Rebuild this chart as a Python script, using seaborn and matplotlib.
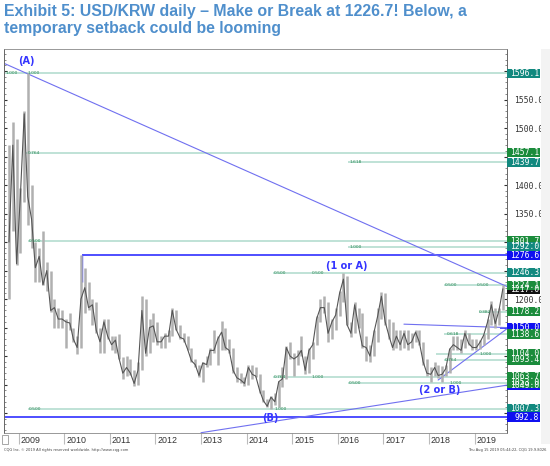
import numpy as np
import pandas as pd
import matplotlib.pyplot as plt
import seaborn as sns
from matplotlib import transforms
from matplotlib.patches import Rectangle
from matplotlib.ticker import MultipleLocator, FuncFormatter

sns.set_style('white')
plt.rcParams['font.family'] = ['Liberation Sans', 'DejaVu Sans']

# ---------------------------------------------------------------
# monthly USD/KRW ranges (Oct 2008 - Aug 2019)
# ---------------------------------------------------------------
high = [1470, 1510, 1480,
        1395, 1530, 1597, 1400, 1300, 1290, 1320, 1265, 1250, 1200, 1185, 1180,
        1165, 1175, 1150, 1135, 1277, 1255, 1230, 1200, 1195, 1150, 1165, 1165,
        1135, 1135, 1138, 1098, 1100, 1095, 1075, 1090, 1205, 1200, 1165, 1175,
        1160, 1135, 1140, 1145, 1185, 1180, 1155, 1140, 1135, 1115, 1095, 1085,
        1090, 1100, 1115, 1145, 1135, 1162, 1150, 1130, 1115, 1080, 1070, 1063,
        1085, 1085, 1080, 1068, 1040, 1025, 1030, 1035, 1057, 1080, 1118, 1125,
        1105, 1110, 1135, 1100, 1115, 1125, 1170, 1200, 1205, 1195, 1165, 1185,
        1215, 1246, 1240, 1160, 1195, 1185, 1175, 1135, 1120, 1145, 1185, 1212,
        1210, 1165, 1160, 1145, 1145, 1145, 1145, 1140, 1145, 1145, 1125, 1095,
        1080, 1090, 1085, 1082, 1085, 1115, 1135, 1135, 1130, 1145, 1140, 1130,
        1130, 1128, 1138, 1165, 1196, 1185, 1185, 1224]
low = [1200, 1320, 1260,
       1280, 1370, 1330, 1290, 1230, 1230, 1225, 1215, 1178, 1150, 1150, 1150,
       1115, 1145, 1125, 1104, 1115, 1175, 1180, 1155, 1140, 1105, 1105, 1130,
       1110, 1105, 1095, 1060, 1065, 1067, 1048, 1050, 1075, 1100, 1105, 1125,
       1120, 1115, 1115, 1125, 1135, 1145, 1130, 1125, 1110, 1090, 1080, 1063,
       1054, 1080, 1085, 1105, 1085, 1110, 1110, 1105, 1070, 1055, 1052, 1047,
       1050, 1060, 1063, 1035, 1020, 1010, 1008, 1015, 1010, 1045, 1060, 1095,
       1065, 1085, 1100, 1068, 1070, 1095, 1120, 1160, 1175, 1125, 1130, 1145,
       1170, 1195, 1155, 1133, 1140, 1150, 1115, 1092, 1090, 1100, 1125, 1165,
       1155, 1130, 1110, 1115, 1110, 1115, 1110, 1115, 1125, 1120, 1085, 1065,
       1055, 1065, 1062, 1054, 1065, 1070, 1110, 1110, 1105, 1115, 1120, 1110,
       1110, 1112, 1120, 1130, 1155, 1150, 1155, 1180]
close = [1300, 1470, 1262,
         1380, 1525, 1380, 1340, 1255, 1275, 1225, 1250, 1180, 1185, 1165, 1165,
         1160, 1158, 1130, 1115, 1200, 1220, 1185, 1190, 1145, 1125, 1160, 1135,
         1120, 1128, 1097, 1070, 1080, 1070, 1052, 1075, 1180, 1105, 1150, 1153,
         1125, 1125, 1135, 1135, 1180, 1147, 1133, 1130, 1112, 1092, 1085, 1066,
         1088, 1085, 1110, 1110, 1130, 1142, 1115, 1110, 1075, 1062, 1058, 1052,
         1080, 1068, 1065, 1040, 1022, 1012, 1028, 1020, 1055, 1060, 1115, 1100,
         1095, 1100, 1110, 1075, 1110, 1120, 1165, 1185, 1185, 1140, 1160, 1172,
         1210, 1235, 1155, 1140, 1190, 1152, 1118, 1115, 1100, 1140, 1170, 1205,
         1160, 1135, 1115, 1135, 1120, 1140, 1120, 1125, 1142, 1125, 1090, 1070,
         1068, 1080, 1066, 1068, 1078, 1112, 1120, 1115, 1110, 1140, 1122, 1115,
         1115, 1125, 1137, 1160, 1190, 1157, 1180, 1218]

dates = pd.date_range('2008-10-01', '2019-08-01', freq='MS') + pd.Timedelta(days=14)
df = pd.DataFrame({'t': dates.year + (dates.dayofyear - 1) / 365.25,
                   'high': high, 'low': low, 'close': close})

# horizontal levels (price, start in years, box colour, fib labels)
levels = [1596.1, 1457.1, 1439.7, 1301.7, 1292.0, 1276.6, 1246.3, 1224.1,
          1178.2, 1150.0, 1138.6, 1104.0, 1093.4, 1063.7, 1053.0, 1007.3, 992.8]
level_start = [2008.68, 2009.17, 2016.23, 2009.2, 2016.23, 2010.40, 2014.57, 2018.33,
               2019.10, 2019.55, 2018.33, 2018.15, 2018.33, 2014.57, 2016.23, 2009.2, 2008.68]
level_kind = ['teal', 'green', 'teal', 'green', 'teal', 'blue', 'teal', 'green',
              'green', 'blue', 'green', 'green', 'green', 'green', 'green', 'teal', 'blue']
fib_labels = [
    (1596.1, 2008.72, '1.000'), (1596.1, 2009.19, '1.000'),
    (1457.1, 2009.19, '0.764'), (1439.7, 2016.25, '1.618'),
    (1301.7, 2009.22, '0.500'), (1292.0, 2016.25, '1.000'),
    (1246.3, 2014.59, '0.500'), (1246.3, 2015.43, '0.500'),
    (1224.1, 2018.35, '0.500'), (1224.1, 2019.05, '0.500'),
    (1178.2, 2019.10, '0.382'), (1138.6, 2018.38, '0.618'),
    (1104.0, 2019.10, '1.000'), (1093.4, 2018.35, '0.764'),
    (1063.7, 2014.59, '0.764'), (1063.7, 2015.43, '1.000'),
    (1053.0, 2016.25, '0.500'), (1053.0, 2018.45, '1.000'),
    (1007.3, 2009.22, '0.500'), (1007.3, 2014.62, '1.000'),
]
waves = [('(A)', 2009.17, 1618), ('(1 or A)', 2016.19, 1258),
         ('(2 or B)', 2018.24, 1040), ('(B)', 2014.53, 992)]
# trend lines (x0, y0, x1, y1)
trends = [(2008.68, 1613.6, 2019.71, 1222.0),
          (2013.00, 965.6, 2019.71, 1049.0),
          (2017.45, 1156.0, 2019.71, 1150.0),
          (2018.20, 1058.0, 2019.71, 1148.0)]
years = list(range(2009, 2020))
shown_ticks = [1550, 1500, 1400, 1350, 1200]

box_colors = {'teal': '#12897f', 'green': '#1b8c3c', 'blue': '#1010f0', 'black': '#111111'}
PX_PER_UNIT = 0.57

fig = plt.figure(figsize=(5.5, 4.66), dpi=100)
ax = fig.add_axes([4 / 550, (466 - 432.7) / 466, 503 / 550, (432.7 - 49) / 466])
ax.set_xlim(2008.68, 2019.71)
ax.set_ylim(965.6, 1638.7)

# price bars
ax.vlines(df['t'], df['low'], df['high'], color='#b0b0b0', lw=1.8, zorder=2)
sns.lineplot(data=df, x='t', y='close', ax=ax, color='#555555', lw=0.8, zorder=2.2)

# horizontal levels
for lv, x0, kind in zip(levels, level_start, level_kind):
    if kind == 'blue':
        ax.hlines(lv, x0, 2019.71, color='#4040ff', lw=1.3, zorder=1.8)
    else:
        ax.hlines(lv, x0, 2019.71, color='#bfe2d6', lw=1.4, zorder=1.5)
ax.vlines(2010.40, 1230, 1276.6, color='#4040ff', lw=1.0, zorder=1.8)

for lv, xx, s in fib_labels:
    ax.text(xx, lv, s, fontsize=3.2, color='#2e8b57', va='center', ha='left',
            family='DejaVu Sans', zorder=3)

for x0, y0, x1, y1 in trends:
    ax.plot([x0, x1], [y0, y1], color='#7070f0', lw=0.8, zorder=1.9)

for s, xx, yy in waves:
    ax.text(xx, yy, s, fontsize=7, color='#3434ff', fontweight='bold', ha='center',
            va='center', family='DejaVu Sans', zorder=4)

# right hand price boxes
trans_r = transforms.blended_transform_factory(ax.transAxes, ax.transData)
box_w = 33 / 503
box_h = 9.4 / PX_PER_UNIT
right_boxes = list(zip(levels, level_kind)) + [(1217.0, 'black'), (1049.0, 'blue')]
order = [0, 1, 2, 3, 4, 5, 6, 17, 7, 8, 9, 10, 12, 11, 13, 18, 14, 15, 16]
for i in order:
    lv, kind = right_boxes[i]
    ax.add_patch(Rectangle((1.0, lv - box_h / 2), box_w, box_h, transform=trans_r,
                           facecolor=box_colors[kind], edgecolor='none',
                           clip_on=False, zorder=6))
    ax.text(1.0 + box_w - 0.002, lv, f'{lv:.1f}', transform=trans_r, ha='right',
            va='center', fontsize=5.8, color='white', family='DejaVu Sans Mono',
            clip_on=False, zorder=7)

# axes styling
ax.yaxis.tick_right()
ax.set_yticks(np.arange(1000, 1601, 50))
ax.yaxis.set_major_formatter(FuncFormatter(lambda v, p: f'{v:.1f}' if round(v) in shown_ticks else ''))
ax.yaxis.set_minor_locator(MultipleLocator(10))
ax.tick_params(axis='y', which='major', labelsize=5.8, pad=5, length=2,
               colors='#333333', right=True, left=True, direction='in')
ax.tick_params(axis='y', which='minor', length=1.5, right=True, left=True,
               direction='in', color='#777777')
for lab in ax.get_yticklabels():
    lab.set_fontfamily('DejaVu Sans Mono')
ax.set_xticks(years)
ax.set_xticklabels([])
ax.tick_params(axis='x', length=8.2, width=0.8, direction='out', color='#bbbbbb', bottom=True)
ax.set_xlabel('')
ax.set_ylabel('')
for side in ['top', 'bottom']:
    ax.spines[side].set_color('#888888')
    ax.spines[side].set_linewidth(0.6)
for side in ['left', 'right']:
    ax.spines[side].set_color('#666666')
    ax.spines[side].set_linewidth(0.7)
    ax.spines[side].set_linestyle((0, (1, 1)))

trans_b = transforms.blended_transform_factory(ax.transData, ax.transAxes)
for yr in years:
    ax.text(yr + 0.04, -0.008, str(yr), transform=trans_b, ha='left', va='top',
            fontsize=6.4, color='#333333', clip_on=False)

# frame pieces outside the plot
fig.patches.append(Rectangle((2 / 550, 1 - 444 / 466), 6 / 550, 9 / 466, transform=fig.transFigure,
                             facecolor='white', edgecolor='#999999', lw=0.6))
fig.patches.append(Rectangle((541 / 550, 1 - 444 / 466), 9 / 550, 395 / 466, transform=fig.transFigure,
                             facecolor='#f3f3f3', edgecolor='none'))

fig.text(4 / 550, 1 - 4 / 466,
         'Exhibit 5: USD/KRW daily \u2013 Make or Break at 1226.7! Below, a\ntemporary setback could be looming',
         ha='left', va='top', fontsize=11.4, fontweight='bold', color='#4f8fcc', linespacing=1.2)
fig.text(4 / 550, 1 - 450 / 466, 'CQG Inc. \u00a9 2019 All rights reserved worldwide. http://www.cqg.com',
         ha='left', va='center', fontsize=2.6, color='#444444', family='DejaVu Sans')
fig.text(546 / 550, 1 - 450 / 466, 'Thu Aug 15 2019 05:44:22, CQG 19.9.8026',
         ha='right', va='center', fontsize=2.6, color='#444444', family='DejaVu Sans')

fig.savefig('out.png', dpi=100)
